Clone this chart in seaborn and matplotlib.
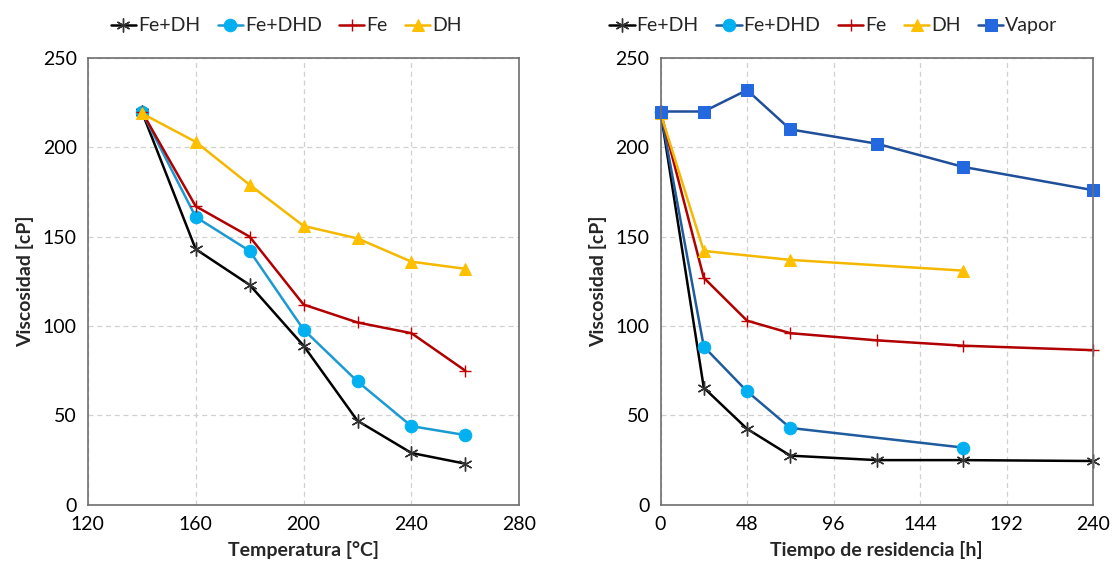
import matplotlib
matplotlib.use("Agg")
import matplotlib.pyplot as plt
import seaborn as sns
import pandas as pd

# ---- data ----
temp = [140, 160, 180, 200, 220, 240, 260]
t_fe_dh = [220, 143, 123, 89, 47, 29, 23]
t_fe_dhd = [220, 161, 142, 98, 69, 44, 39]
t_fe = [220, 167, 150, 112, 102, 96, 75]
t_dh = [219, 203, 179, 156, 149, 136, 132]

time_all = [0, 24, 48, 72, 120, 168, 240]
r_fe_dh = [220, 65.5, 42.5, 27.5, 25, 25, 24.5]
time_dhd = [0, 24, 48, 72, 168]
r_fe_dhd = [220, 88.5, 63.5, 43, 32]
r_fe = [220, 127, 103, 96, 92, 89, 86.5]
time_dh = [0, 24, 72, 168]
r_dh = [219, 142, 137, 131]
r_vapor = [220, 220, 232, 210, 202, 189, 176]

sns.set_style("white")
plt.rcParams['font.family'] = ['Lato', 'DejaVu Sans']

fig = plt.figure(figsize=(11.12, 5.73), dpi=100)
ax1 = fig.add_axes([0.079, 0.119, 0.388, 0.780])
ax2 = fig.add_axes([0.594, 0.119, 0.389, 0.780])

styles = {
    'Fe+DH': dict(color='black', marker=(6, 2, 0), ms=10, mec='#333333', mew=1.0),
    'Fe+DHD': dict(color='#1B9AD2', marker='o', ms=9, mfc='#00B0F0', mec='#00B0F0'),
    'Fe': dict(color='#B00000', marker='+', ms=8, mec='#C00000', mew=1.0),
    'DH': dict(color='#F5B800', marker='^', ms=9, mfc='#FFC000', mec='#FFC000'),
    'Vapor': dict(color='#1F4E9A', marker='s', ms=9, mfc='#2468E0', mec='#2468E0'),
}

def draw(ax, x, y, name, line_color=None):
    st = dict(styles[name])
    if line_color:
        st['color'] = line_color
    df = pd.DataFrame({'x': x, 'y': y})
    sns.lineplot(data=df, x='x', y='y', ax=ax, label=name, lw=1.8, clip_on=False, **st)

draw(ax1, temp, t_fe_dh, 'Fe+DH')
draw(ax1, temp, t_fe_dhd, 'Fe+DHD')
draw(ax1, temp, t_fe, 'Fe')
draw(ax1, temp, t_dh, 'DH')

draw(ax2, time_all, r_fe_dh, 'Fe+DH')
draw(ax2, time_dhd, r_fe_dhd, 'Fe+DHD', line_color='#1F5C9E')
draw(ax2, time_all, r_fe, 'Fe')
draw(ax2, time_dh, r_dh, 'DH')
draw(ax2, time_all, r_vapor, 'Vapor')

for ax in (ax1, ax2):
    ax.set_ylim(0, 250)
    ax.set_yticks([0, 50, 100, 150, 200, 250])
    ax.grid(True, ls=(0, (4, 3)), color='#D0D0D0', lw=0.9)
    ax.set_axisbelow(True)
    for s in ax.spines.values():
        s.set_color('#6E6E6E')
        s.set_linewidth(1.2)
    ax.tick_params(labelsize=14, length=0, pad=8, colors='black')
    ax.set_ylabel('Viscosidad [cP]', fontsize=14, fontweight='bold', labelpad=6)

ax1.set_xlim(120, 280)
ax1.set_xticks([120, 160, 200, 240, 280])
ax1.set_xlabel('Temperatura [°C]', fontsize=14, fontweight='bold', labelpad=6)
ax2.set_xlim(0, 240)
ax2.set_xticks([0, 48, 96, 144, 192, 240])
ax2.set_xlabel('Tiempo de residencia [h]', fontsize=14, fontweight='bold', labelpad=6)

for ax, cx in ((ax1, 0.46), (ax2, 0.40)):
    ax.legend(loc='lower center', bbox_to_anchor=(cx, 1.035), ncol=5, frameon=False,
              fontsize=14, handlelength=1.3, handletextpad=0.1, columnspacing=0.9,
              borderaxespad=0)

fig.savefig('out.png', dpi=100)
